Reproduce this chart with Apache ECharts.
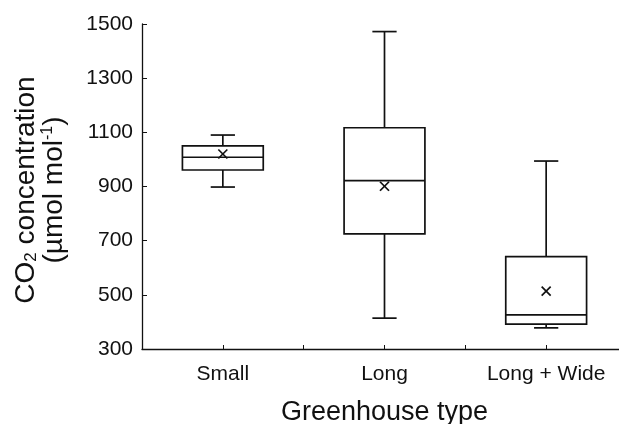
<!DOCTYPE html>
<html>
<head>
<meta charset="utf-8">
<script src="https://cdn.jsdelivr.net/npm/echarts@6/dist/echarts.min.js"></script>
<style>
html,body{margin:0;padding:0;background:#fff;overflow:hidden;}
#chart{width:619px;height:424px;}
</style>
</head>
<body>
<div id="chart"></div>
<script>
const categories = ['Small', 'Long', 'Long + Wide'];
const whiskerLow = [898, 414, 378];
const q1 = [961, 725, 392];
const median = [1008, 922, 426];
const q3 = [1050, 1117, 641];
const whiskerHigh = [1090, 1472, 994];
const mean = [1020, 901, 514];

const FONT = '"Liberation Sans", Arial, Helvetica, sans-serif';
const INK = '#111';

const data = categories.map((c, i) => [i, whiskerLow[i], q1[i], median[i], q3[i], whiskerHigh[i], mean[i]]);

function renderItem(params, api) {
  const x = api.value(0);
  const pLow = api.coord([x, api.value(1)]);
  const pQ1 = api.coord([x, api.value(2)]);
  const pMed = api.coord([x, api.value(3)]);
  const pQ3 = api.coord([x, api.value(4)]);
  const pHigh = api.coord([x, api.value(5)]);
  const pMean = api.coord([x, api.value(6)]);
  const band = api.size([1, 0])[0];
  const bw = band * 0.5;
  const cw = band * 0.15;
  const cx = pMed[0];
  const st = { stroke: INK, lineWidth: 1.7, fill: null };
  const cs = 4.5;
  return {
    type: 'group',
    children: [
      { type: 'line', shape: { x1: cx, y1: pQ3[1], x2: cx, y2: pHigh[1] }, style: st },
      { type: 'line', shape: { x1: cx, y1: pQ1[1], x2: cx, y2: pLow[1] }, style: st },
      { type: 'line', shape: { x1: cx - cw / 2, y1: pHigh[1], x2: cx + cw / 2, y2: pHigh[1] }, style: st },
      { type: 'line', shape: { x1: cx - cw / 2, y1: pLow[1], x2: cx + cw / 2, y2: pLow[1] }, style: st },
      { type: 'rect', shape: { x: cx - bw / 2, y: pQ3[1], width: bw, height: pQ1[1] - pQ3[1] }, style: { stroke: INK, lineWidth: 1.7, fill: '#fff' } },
      { type: 'line', shape: { x1: cx - bw / 2, y1: pMed[1], x2: cx + bw / 2, y2: pMed[1] }, style: st },
      { type: 'line', shape: { x1: pMean[0] - cs, y1: pMean[1] - cs, x2: pMean[0] + cs, y2: pMean[1] + cs }, style: st },
      { type: 'line', shape: { x1: pMean[0] - cs, y1: pMean[1] + cs, x2: pMean[0] + cs, y2: pMean[1] - cs }, style: st }
    ]
  };
}

const chart = echarts.init(document.getElementById('chart'), null, { renderer: 'canvas' });
chart.setOption({
  animation: false,
  backgroundColor: '#fff',
  textStyle: { fontFamily: FONT },
  grid: { left: 142, width: 485, top: 24, bottom: 75, containLabel: false, outerBoundsMode: 'none' },
  xAxis: {
    type: 'value',
    min: -0.5,
    max: 2.5,
    interval: 0.5,
    splitLine: { show: false },
    axisLine: { show: true, onZero: false, lineStyle: { color: INK, width: 1.3 } },
    axisTick: { show: true, inside: true, length: 4, lineStyle: { color: INK, width: 1 } },
    axisLabel: {
      margin: 15,
      fontSize: 21,
      color: INK,
      fontFamily: FONT,
      showMinLabel: false,
      showMaxLabel: false,
      formatter: function (v) {
        const r = Math.round(v);
        return Math.abs(v - r) < 1e-6 && r >= 0 && r < categories.length ? categories[r] : '';
      }
    },
    name: 'Greenhouse type',
    nameLocation: 'middle',
    nameGap: 50,
    nameTextStyle: { fontSize: 27, color: INK, fontFamily: FONT }
  },
  yAxis: {
    type: 'value',
    min: 300,
    max: 1500,
    interval: 200,
    splitLine: { show: false },
    axisLine: { show: true, onZero: false, lineStyle: { color: INK, width: 1.3 } },
    axisTick: { show: true, inside: true, length: 5, lineStyle: { color: INK, width: 1 } },
    axisLabel: { margin: 9, fontSize: 21, color: INK, fontFamily: FONT, formatter: function (v) { return String(v); } },
    name: '{a|CO}{sub|2}{a| concentration}\n{a|(µmol mol}{sup|-1}{a|)}',
    nameLocation: 'middle',
    nameRotate: 90,
    nameGap: 74,
    nameTextStyle: {
      color: INK,
      fontFamily: FONT,
      padding: [0, 7, 0, 0],
      rich: {
        a: { fontSize: 28, lineHeight: 28, color: INK, fontFamily: FONT },
        sub: { fontSize: 17, lineHeight: 28, verticalAlign: 'bottom', color: INK, fontFamily: FONT },
        sup: { fontSize: 16, lineHeight: 28, verticalAlign: 'top', color: INK, fontFamily: FONT }
      }
    }
  },
  series: [{
    type: 'custom',
    renderItem: renderItem,
    encode: { x: 0, y: [1, 2, 3, 4, 5, 6] },
    data: data,
    clip: false
  }]
});
</script>
</body>
</html>
